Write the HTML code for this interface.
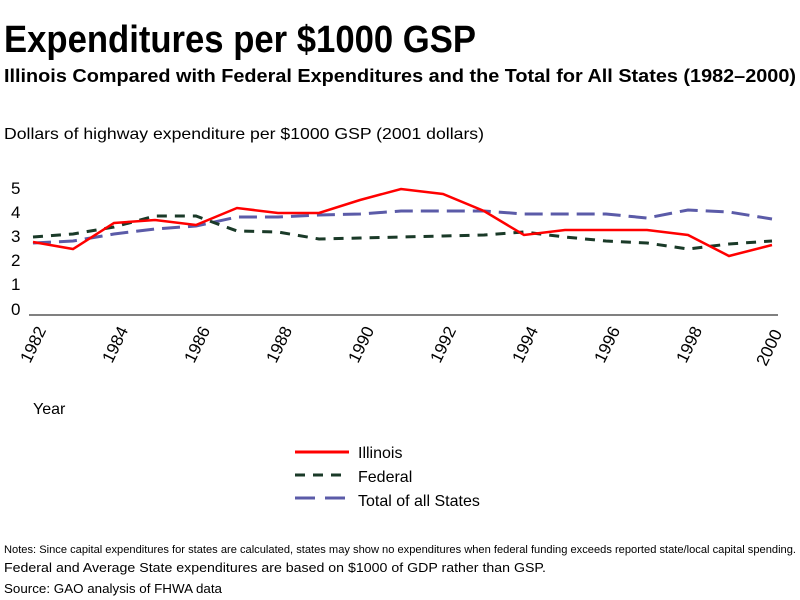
<!DOCTYPE html>
<html><head><meta charset="utf-8"><style>
body{margin:0;background:#fff;}
svg{display:block;font-family:"Liberation Sans",sans-serif;}
</style></head><body>
<svg width="800" height="600" viewBox="0 0 800 600">
<text x="4" y="52" font-size="38" font-weight="bold" fill="#000" textLength="472" lengthAdjust="spacingAndGlyphs">Expenditures per $1000 GSP</text>
<text x="4" y="82" font-size="18" font-weight="bold" fill="#000" textLength="792" lengthAdjust="spacingAndGlyphs">Illinois Compared with Federal Expenditures and the Total for All States (1982–2000)</text>
<text x="4" y="139" font-size="16" fill="#000" textLength="480" lengthAdjust="spacingAndGlyphs">Dollars of highway expenditure per $1000 GSP (2001 dollars)</text>
<g font-size="17" fill="#000">
<text x="11" y="194">5</text><text x="11" y="218">4</text><text x="11" y="242">3</text><text x="11" y="266">2</text><text x="11" y="290">1</text><text x="11" y="315">0</text>
</g>
<line x1="29" y1="315" x2="778" y2="315" stroke="#000" stroke-width="1"/>
<g font-size="17" fill="#000">
<text transform="translate(30,364) rotate(-64)">1982</text>
<text transform="translate(112,364) rotate(-64)">1984</text>
<text transform="translate(194,364) rotate(-64)">1986</text>
<text transform="translate(276,364) rotate(-64)">1988</text>
<text transform="translate(358,364) rotate(-64)">1990</text>
<text transform="translate(440,364) rotate(-64)">1992</text>
<text transform="translate(522,364) rotate(-64)">1994</text>
<text transform="translate(604,364) rotate(-64)">1996</text>
<text transform="translate(686,364) rotate(-64)">1998</text>
<text transform="translate(766,367) rotate(-64)">2000</text>
</g>
<text x="33" y="414" font-size="16" fill="#000">Year</text>
<polyline fill="none" stroke="#5b5ba8" stroke-width="3" stroke-dasharray="18,8" points="33,243 73,241 114,234 155,229 196,226 237,217 278,217 319,215 360,214 401,211 443,211 484,211 524,214 565,214 606,214 647,218 688,210 729,212 772,219"/>
<polyline fill="none" stroke="#1a3a28" stroke-width="3" stroke-dasharray="10,8" points="33,237 73,234 114,227 155,216 196,216 237,231 278,232 319,239 360,238 401,237 443,236 484,235 524,232 565,237 606,241 647,243 688,249 729,244 772,241"/>
<polyline fill="none" stroke="#ff0000" stroke-width="2.5" points="33,242 73,249 114,223 155,220 196,225 237,208 278,213 319,213 360,200 401,189 443,194 484,211 524,235 565,230 606,230 647,230 688,235 729,256 772,245"/>
<line x1="295" y1="452" x2="349" y2="452" stroke="#ff0000" stroke-width="3"/>
<line x1="295" y1="475" x2="349" y2="475" stroke="#1a3a28" stroke-width="3" stroke-dasharray="10,8"/>
<line x1="295" y1="498" x2="349" y2="498" stroke="#5b5ba8" stroke-width="3" stroke-dasharray="20,10"/>
<g font-size="16" fill="#000">
<text x="358" y="458">Illinois</text>
<text x="358" y="482">Federal</text>
<text x="358" y="506">Total of all States</text>
</g>
<text x="4" y="553" font-size="11" fill="#000" textLength="792" lengthAdjust="spacingAndGlyphs">Notes: Since capital expenditures for states are calculated, states may show no expenditures when federal funding exceeds reported state/local capital spending.</text>
<text x="4" y="572" font-size="13" fill="#000" textLength="542" lengthAdjust="spacingAndGlyphs">Federal and Average State expenditures are based on $1000 of GDP rather than GSP.</text>
<text x="4" y="593" font-size="13" fill="#000" textLength="218" lengthAdjust="spacingAndGlyphs">Source: GAO analysis of FHWA data</text>
</svg>
</body></html>
